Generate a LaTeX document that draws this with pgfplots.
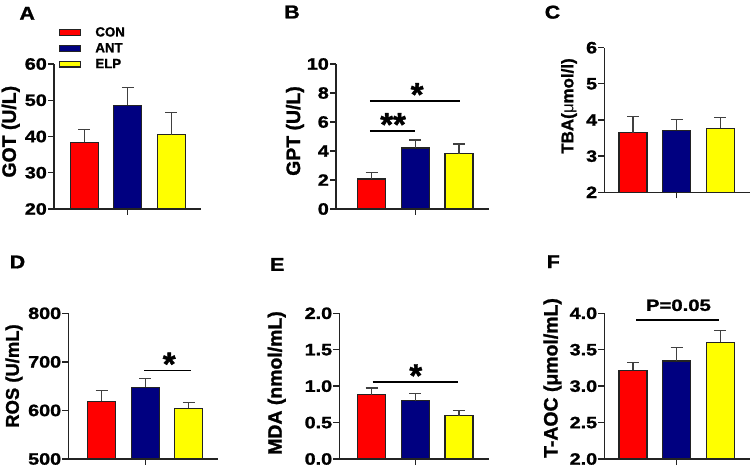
\documentclass[border=0pt]{standalone}
\usepackage{fontspec}
\setmainfont{Liberation Sans}[BoldFeatures={FakeBold=1.3}]
\usepackage{graphicx}
\usepackage{pgfplots}
\pgfplotsset{compat=1.18}
\definecolor{cred}{RGB}{255,0,0}
\definecolor{cblue}{RGB}{0,0,128}
\definecolor{cyel}{RGB}{255,255,0}
\definecolor{edge}{RGB}{35,35,35}
\newcommand{\tickfont}{\bfseries\fontsize{16.5}{16.5}\selectfont}
\newcommand{\labfont}{\bfseries\fontsize{19.5}{19.5}\selectfont}
\newcommand{\letfont}{\bfseries\fontsize{18.6}{18.6}\selectfont}
\newcommand{\starfont}{\bfseries\fontsize{33}{33}\selectfont}
\pgfplotsset{
  panel/.style={
    scale only axis,
    axis lines*=left,
    axis line style={line width=1.3bp, edge},
    tick style={line width=1.3bp, edge},
    tick align=outside,
    major tick length=6bp,
    xtick={2}, xticklabels={},
    clip mode=individual,
    /pgf/number format/assume math mode=true,
    yticklabel style={font=\tickfont, inner sep=1bp},
    yticklabel={\scalebox{1.2}[1]{\pgfmathprintnumber{\tick}}},
    error bars/error bar style={line width=1.1bp, black!75},
    error bars/error mark options={rotate=90, mark size=6bp, line width=1.1bp, black!75},
  },
  mybar/.style={ybar, bar width=28bp, bar shift=0pt, draw=edge, line width=1.2bp, fill=#1,
     error bars/y dir=plus, error bars/y explicit},
}
\begin{document}
\begin{tikzpicture}
\path[use as bounding box] (0bp,0bp) rectangle (750bp,467bp);

% ---------- A ----------
\begin{axis}[panel, at={(54bp,258bp)}, anchor=south west, width=147bp, height=145bp,
  xmin=0.308, xmax=3.676, ymin=20, ymax=60, ytick={20,30,40,50,60},
  legend image code/.code={\draw[#1, line width=1.2bp, draw=edge] (0bp,-2.7bp) rectangle (21bp,2.7bp);},
  legend style={at={(axis description cs:0.034,1.255)}, anchor=north west, draw=none, fill=none,
    inner sep=0pt, row sep=5.2bp, font=\bfseries\fontsize{13.3}{13.3}\selectfont,
    nodes={inner sep=0pt}, /tikz/every odd column/.style={column sep=14bp}},
  legend cell align=left]
\addplot[mybar=cred] coordinates {(1,38.4) +- (0,3.5)};
\addlegendentry{CON}
\addplot[mybar=cblue] coordinates {(2,48.6) +- (0,5.0)};
\addlegendentry{ANT}
\addplot[mybar=cyel] coordinates {(3,40.5) +- (0,6.0)};
\addlegendentry{ELP}
\end{axis}

% ---------- B ----------
\begin{axis}[panel, at={(336bp,258bp)}, anchor=south west, width=152.7bp, height=145bp,
  xmin=0.182, xmax=3.68, ymin=0, ymax=10, ytick={0,2,4,6,8,10}]
\addplot[mybar=cred] coordinates {(1,2.07) +- (0,0.46)};
\addplot[mybar=cblue] coordinates {(2,4.21) +- (0,0.55)};
\addplot[mybar=cyel] coordinates {(3,3.81) +- (0,0.67)};
\draw[line width=1.5bp] (axis cs:0.96,5.38) -- (axis cs:1.99,5.38);
\draw[line width=1.5bp] (axis cs:0.96,7.45) -- (axis cs:3.02,7.45);
\node[anchor=base, font=\starfont, inner sep=0pt] at (axis cs:1.49,5.05) {**};
\node[anchor=base, font=\starfont, inner sep=0pt] at (axis cs:2.04,7.12) {*};
\end{axis}

% ---------- C ----------
\begin{axis}[panel, at={(604.3bp,274.7bp)}, anchor=south west, width=145.7bp, height=144.6bp,
  xmin=0.342, xmax=3.68, ymin=2, ymax=6, ytick={2,3,4,5,6}]
\addplot[mybar=cred] coordinates {(1,3.65) +- (0,0.45)};
\addplot[mybar=cblue] coordinates {(2,3.72) +- (0,0.30)};
\addplot[mybar=cyel] coordinates {(3,3.77) +- (0,0.30)};
\end{axis}

% ---------- D ----------
\begin{axis}[panel, at={(68.3bp,8bp)}, anchor=south west, width=150bp, height=145.7bp,
  xmin=0.239, xmax=3.675, ymin=500, ymax=800, ytick={500,600,700,800}]
\addplot[mybar=cred] coordinates {(1,619) +- (0,22)};
\addplot[mybar=cblue] coordinates {(2,648) +- (0,17)};
\addplot[mybar=cyel] coordinates {(3,604) +- (0,13)};
\draw[line width=1.5bp] (axis cs:1.98,682.6) -- (axis cs:3.04,682.6);
\node[anchor=base, font=\starfont, inner sep=0pt] at (axis cs:2.55,672.3) {*};
\end{axis}

% ---------- E ----------
\begin{axis}[panel, at={(339.3bp,8bp)}, anchor=south west, width=149.4bp, height=145.7bp,
  xmin=0.258, xmax=3.681, ymin=0, ymax=2, ytick={0,0.5,1,1.5,2},
  yticklabel style={/pgf/number format/fixed, /pgf/number format/fixed zerofill, /pgf/number format/precision=1}]
\addplot[mybar=cred] coordinates {(1,0.88) +- (0,0.095)};
\addplot[mybar=cblue] coordinates {(2,0.80) +- (0,0.10)};
\addplot[mybar=cyel] coordinates {(3,0.595) +- (0,0.075)};
\draw[line width=1.5bp] (axis cs:1.02,1.057) -- (axis cs:2.98,1.057);
\node[anchor=base, font=\starfont, inner sep=0pt] at (axis cs:2.01,0.99) {*};
\end{axis}

% ---------- F ----------
\begin{axis}[panel, at={(604.3bp,8bp)}, anchor=south west, width=145.7bp, height=145.7bp,
  xmin=0.342, xmax=3.68, ymin=2, ymax=4, ytick={2,2.5,3,3.5,4},
  yticklabel style={/pgf/number format/fixed, /pgf/number format/fixed zerofill, /pgf/number format/precision=1}]
\addplot[mybar=cred] coordinates {(1,3.22) +- (0,0.10)};
\addplot[mybar=cblue] coordinates {(2,3.345) +- (0,0.185)};
\addplot[mybar=cyel] coordinates {(3,3.60) +- (0,0.17)};
\draw[line width=1.5bp] (axis cs:1.07,3.91) -- (axis cs:2.98,3.91);
\node[anchor=base, font=\bfseries\fontsize{16.3}{16.3}\selectfont, inner sep=0pt] at (axis cs:2.04,4.033) {\scalebox{1.25}[1]{P=0.05}};
\end{axis}

% ---------- axis titles ----------
\node[rotate=90, font=\labfont, inner sep=0pt] at (10.8bp,335.3bp) {GOT (U/L)};
\node[rotate=90, font=\labfont, inner sep=0pt] at (295bp,336bp) {GPT (U/L)};
\node[rotate=90, font=\bfseries\fontsize{17}{17}\selectfont, inner sep=0pt] at (569bp,361bp) {TBA({\mdseries μ}mol/l)};
\node[rotate=90, font=\bfseries\fontsize{18.5}{18.5}\selectfont, inner sep=0pt] at (14bp,91bp) {ROS (U/mL)};
\node[rotate=90, font=\labfont, inner sep=0pt] at (276.7bp,84bp) {MDA (nmol/mL)};
\node[rotate=90, font=\labfont, inner sep=0pt] at (552.5bp,89bp) {T-AOC (μmol/mL)};

% ---------- panel letters ----------
\node[font=\letfont, inner sep=0pt] at (27.2bp,453.7bp) {\scalebox{1.15}[1]{A}};
\node[font=\letfont, inner sep=0pt] at (292bp,455bp) {\scalebox{1.15}[1]{B}};
\node[font=\letfont, inner sep=0pt] at (552.5bp,454.8bp) {\scalebox{1.15}[1]{C}};
\node[font=\letfont, inner sep=0pt] at (17.5bp,205bp) {\scalebox{1.15}[1]{D}};
\node[font=\letfont, inner sep=0pt] at (277.3bp,202.5bp) {\scalebox{1.15}[1]{E}};
\node[font=\letfont, inner sep=0pt] at (553.3bp,205.3bp) {\scalebox{1.15}[1]{F}};
\end{tikzpicture}
\end{document}
